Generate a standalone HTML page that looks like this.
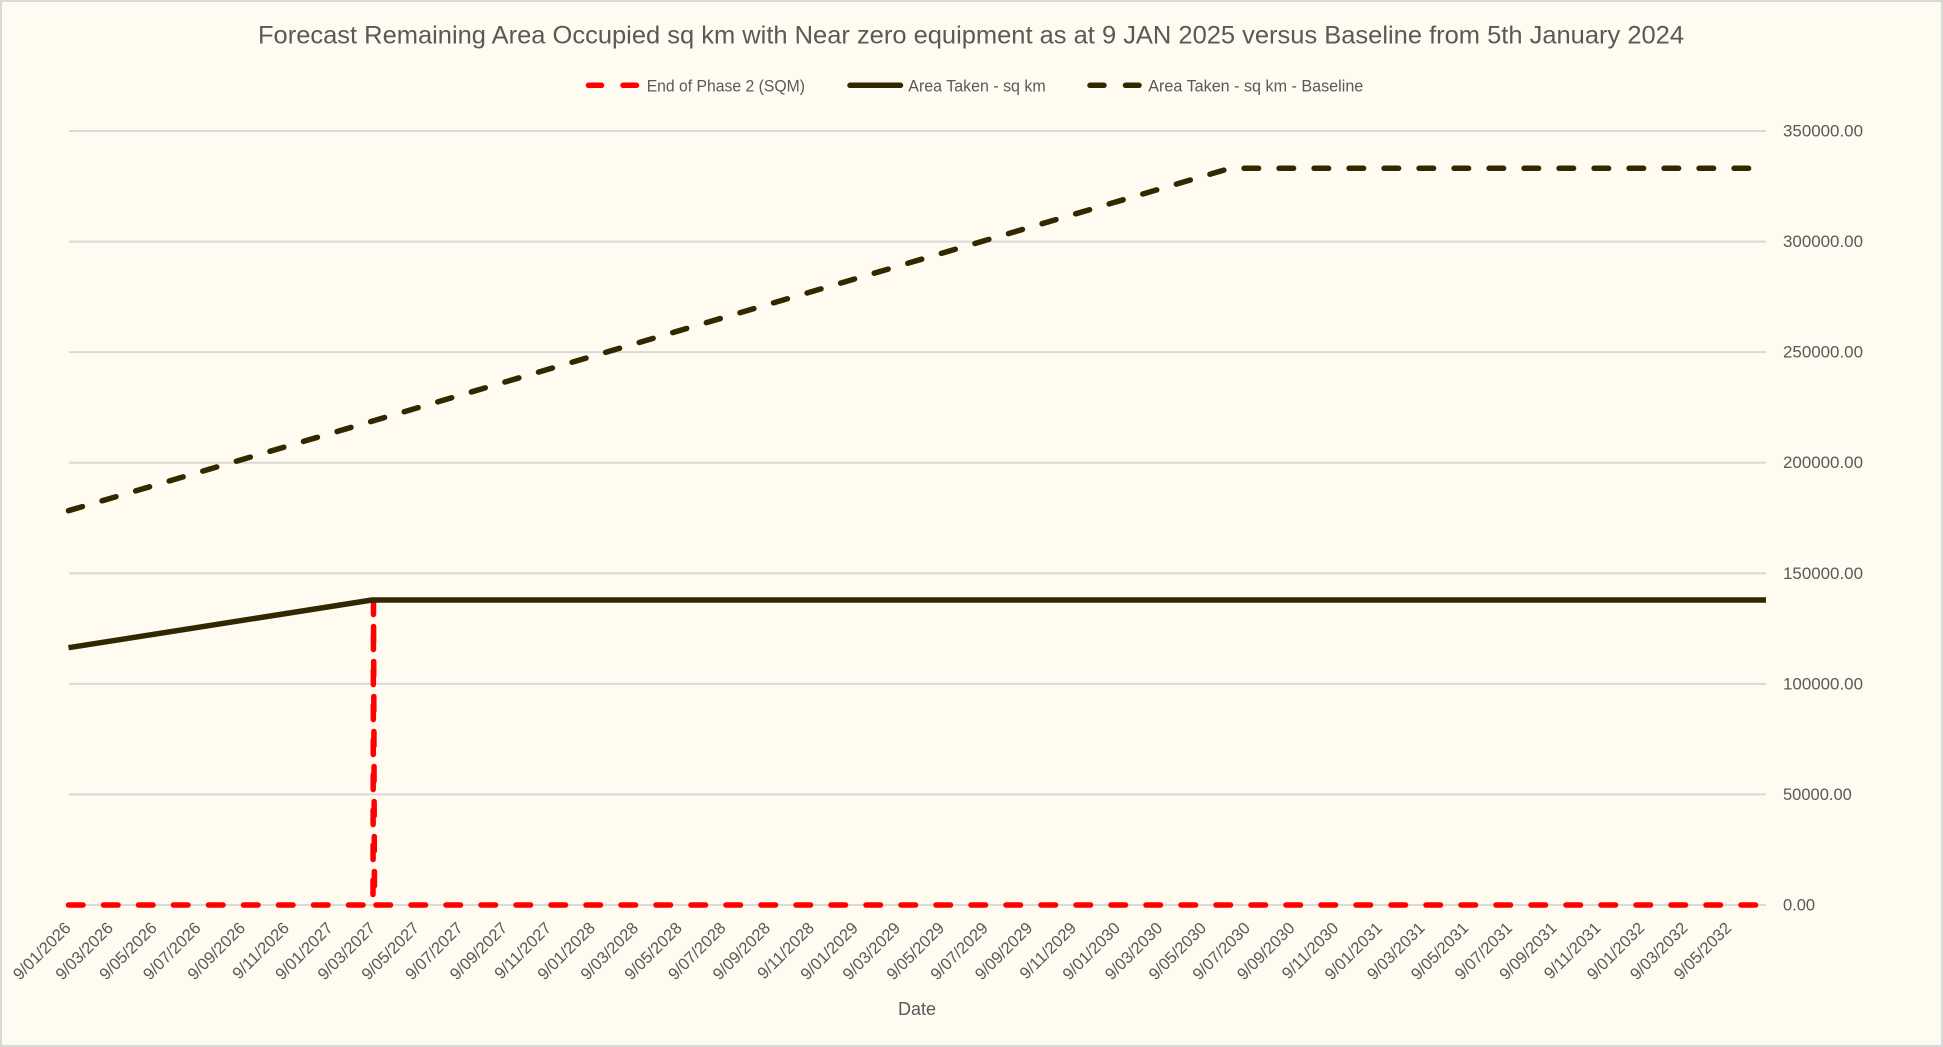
<!DOCTYPE html>
<html>
<head>
<meta charset="utf-8">
<style>
  html, body { margin: 0; padding: 0; background: #fffbf0; }
  svg { display: block; }
  text { font-family: "Liberation Sans", "DejaVu Sans", sans-serif; fill: #595959; }
</style>
</head>
<body>
<svg width="1943" height="1047" viewBox="0 0 1943 1047" xmlns="http://www.w3.org/2000/svg">
  <rect x="1" y="1" width="1941" height="1045" fill="#fffbf0" stroke="#d9d9d9" stroke-width="2"/>

  <!-- Title -->
  <text x="258" y="43.5" font-size="25" textLength="1426" lengthAdjust="spacingAndGlyphs">Forecast Remaining Area Occupied sq km with Near zero equipment as at 9 JAN 2025 versus Baseline from 5th January 2024</text>

  <!-- Legend -->
  <g stroke-linecap="round" stroke-width="5.5" fill="none">
    <line x1="588.5" y1="85.3" x2="601.5" y2="85.3" stroke="#ff0000"/>
    <line x1="623" y1="85.3" x2="636.5" y2="85.3" stroke="#ff0000"/>
    <line x1="850" y1="85.3" x2="900.5" y2="85.3" stroke="#322800"/>
    <line x1="1090" y1="85.3" x2="1104" y2="85.3" stroke="#322800"/>
    <line x1="1125.5" y1="85.3" x2="1139" y2="85.3" stroke="#322800"/>
  </g>
  <text x="646.7" y="91.5" font-size="17" textLength="158.3" lengthAdjust="spacingAndGlyphs">End of Phase 2 (SQM)</text>
  <text x="908.3" y="91.5" font-size="17" textLength="137.4" lengthAdjust="spacingAndGlyphs">Area Taken - sq km</text>
  <text x="1148.3" y="91.5" font-size="17" textLength="215" lengthAdjust="spacingAndGlyphs">Area Taken - sq km - Baseline</text>

  <!-- Gridlines -->
  <g stroke="#d9d9d9" stroke-width="2">
    <line x1="69" y1="131" x2="1766" y2="131"/>
    <line x1="69" y1="241.6" x2="1766" y2="241.6"/>
    <line x1="69" y1="352.1" x2="1766" y2="352.1"/>
    <line x1="69" y1="462.7" x2="1766" y2="462.7"/>
    <line x1="69" y1="573.3" x2="1766" y2="573.3"/>
    <line x1="69" y1="683.9" x2="1766" y2="683.9"/>
    <line x1="69" y1="794.4" x2="1766" y2="794.4"/>
    <line x1="69" y1="905" x2="1766" y2="905"/>
  </g>

  <!-- Y axis labels (right) -->
  <g font-size="16.5">
    <text x="1783" y="136.5" textLength="80" lengthAdjust="spacingAndGlyphs">350000.00</text>
    <text x="1783" y="247.1" textLength="80" lengthAdjust="spacingAndGlyphs">300000.00</text>
    <text x="1783" y="357.6" textLength="80" lengthAdjust="spacingAndGlyphs">250000.00</text>
    <text x="1783" y="468.2" textLength="80" lengthAdjust="spacingAndGlyphs">200000.00</text>
    <text x="1783" y="578.8" textLength="80" lengthAdjust="spacingAndGlyphs">150000.00</text>
    <text x="1783" y="689.4" textLength="80" lengthAdjust="spacingAndGlyphs">100000.00</text>
    <text x="1783" y="799.9">50000.00</text>
    <text x="1783" y="910.5">0.00</text>
  </g>

  <!-- Series: End of Phase 2 (red dashed) -->
  <polyline points="68.5,905 373,905 373.5,603 374.5,905 1766,905" fill="none" stroke="#ff0000" stroke-width="5.5" stroke-linecap="round" stroke-linejoin="round" stroke-dasharray="14.5 20.5"/>

  <!-- Series: Area Taken (solid) -->
  <polyline points="68.5,647.7 372,600 1766,600" fill="none" stroke="#322800" stroke-width="5.5" stroke-linejoin="round"/>

  <!-- Series: Baseline (dashed) -->
  <polyline points="68.5,510.7 1230,168.3 1766,168.3" fill="none" stroke="#322800" stroke-width="5.5" stroke-linecap="round" stroke-linejoin="round" stroke-dasharray="14.5 20.5"/>

  <!-- X axis labels -->
  <g font-size="16.5" text-anchor="end">
    <text transform="translate(71.7,929) rotate(-45)">9/01/2026</text>
    <text transform="translate(114.1,929) rotate(-45)">9/03/2026</text>
    <text transform="translate(157.9,929) rotate(-45)">9/05/2026</text>
    <text transform="translate(201.7,929) rotate(-45)">9/07/2026</text>
    <text transform="translate(246.2,929) rotate(-45)">9/09/2026</text>
    <text transform="translate(290.1,929) rotate(-45)">9/11/2026</text>
    <text transform="translate(333.9,929) rotate(-45)">9/01/2027</text>
    <text transform="translate(376.3,929) rotate(-45)">9/03/2027</text>
    <text transform="translate(420.1,929) rotate(-45)">9/05/2027</text>
    <text transform="translate(463.9,929) rotate(-45)">9/07/2027</text>
    <text transform="translate(508.4,929) rotate(-45)">9/09/2027</text>
    <text transform="translate(552.2,929) rotate(-45)">9/11/2027</text>
    <text transform="translate(596.1,929) rotate(-45)">9/01/2028</text>
    <text transform="translate(639.2,929) rotate(-45)">9/03/2028</text>
    <text transform="translate(683.0,929) rotate(-45)">9/05/2028</text>
    <text transform="translate(726.8,929) rotate(-45)">9/07/2028</text>
    <text transform="translate(771.3,929) rotate(-45)">9/09/2028</text>
    <text transform="translate(815.1,929) rotate(-45)">9/11/2028</text>
    <text transform="translate(859.0,929) rotate(-45)">9/01/2029</text>
    <text transform="translate(901.3,929) rotate(-45)">9/03/2029</text>
    <text transform="translate(945.2,929) rotate(-45)">9/05/2029</text>
    <text transform="translate(989.0,929) rotate(-45)">9/07/2029</text>
    <text transform="translate(1033.5,929) rotate(-45)">9/09/2029</text>
    <text transform="translate(1077.3,929) rotate(-45)">9/11/2029</text>
    <text transform="translate(1121.1,929) rotate(-45)">9/01/2030</text>
    <text transform="translate(1163.5,929) rotate(-45)">9/03/2030</text>
    <text transform="translate(1207.3,929) rotate(-45)">9/05/2030</text>
    <text transform="translate(1251.1,929) rotate(-45)">9/07/2030</text>
    <text transform="translate(1295.7,929) rotate(-45)">9/09/2030</text>
    <text transform="translate(1339.5,929) rotate(-45)">9/11/2030</text>
    <text transform="translate(1383.3,929) rotate(-45)">9/01/2031</text>
    <text transform="translate(1425.7,929) rotate(-45)">9/03/2031</text>
    <text transform="translate(1469.5,929) rotate(-45)">9/05/2031</text>
    <text transform="translate(1513.3,929) rotate(-45)">9/07/2031</text>
    <text transform="translate(1557.9,929) rotate(-45)">9/09/2031</text>
    <text transform="translate(1601.7,929) rotate(-45)">9/11/2031</text>
    <text transform="translate(1645.5,929) rotate(-45)">9/01/2032</text>
    <text transform="translate(1688.6,929) rotate(-45)">9/03/2032</text>
    <text transform="translate(1732.4,929) rotate(-45)">9/05/2032</text>
  </g>

  <!-- X axis title -->
  <text x="917" y="1015" font-size="18" text-anchor="middle">Date</text>
</svg>
</body>
</html>
